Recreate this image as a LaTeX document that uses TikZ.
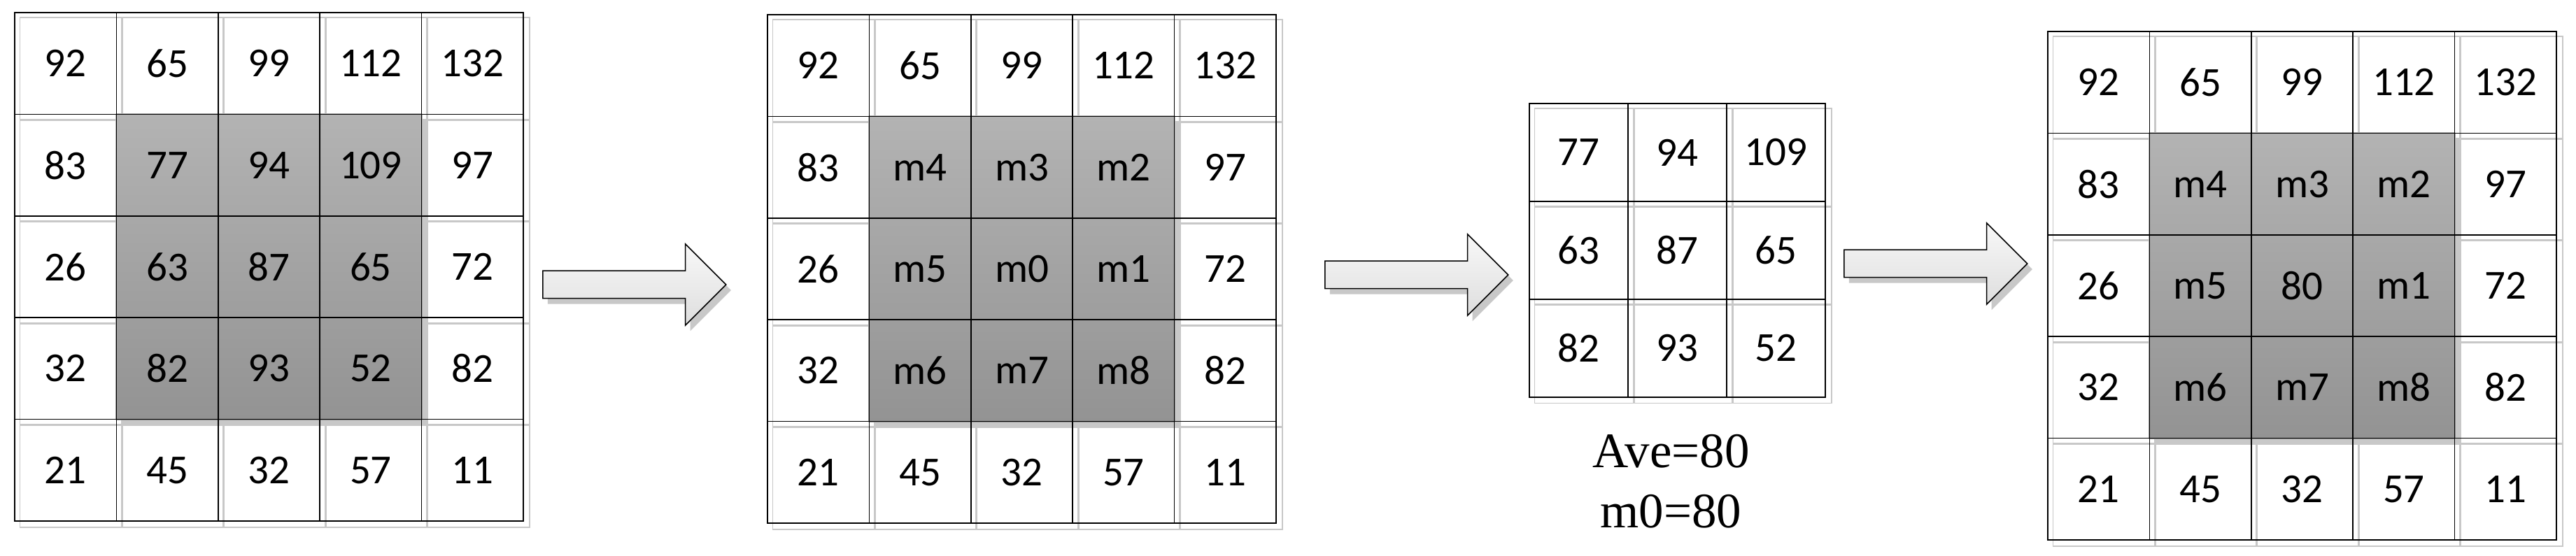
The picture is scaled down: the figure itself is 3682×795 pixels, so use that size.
\documentclass[tikz,border=0pt]{standalone}
\usepackage{fontspec}
\setmainfont{Carlito}
\newfontfamily\timesfont{Liberation Serif}
\usetikzlibrary{positioning, shapes.arrows, shadows, backgrounds}

\definecolor{gridshadow}{HTML}{C8C8C8}
\definecolor{blocktop}{HTML}{B3B3B3}
\definecolor{blockbottom}{HTML}{939393}
\definecolor{arrowtop}{HTML}{F8F8F8}
\definecolor{arrowbottom}{HTML}{DEDEDE}

\begin{document}
\begin{tikzpicture}[
    x=0.5pt, y=-0.5pt,
    font=\fontsize{29.5}{35}\selectfont,
    cell/.style={
      draw,
      line width=0.75pt,
      inner sep=0pt,
      minimum width=72.7pt,
      minimum height=72.7pt
    },
    smallcell/.style={cell, minimum width=70.5pt, minimum height=70pt},
    shadowline/.style={draw=gridshadow, line width=0.75pt},
    block/.style={top color=blocktop, bottom color=blockbottom, draw=none},
    blockshadow/.style={fill=gridshadow},
    bigarrow/.style={
      single arrow,
      draw,
      line width=0.75pt,
      inner xsep=0pt,
      inner ysep=9.5pt,
      minimum height=131pt,
      minimum width=57.5pt,
      single arrow head extend=19.25pt,
      single arrow tip angle=90,
      top color=arrowtop,
      bottom color=arrowbottom,
      drop shadow={shadow xshift=3.5pt, shadow yshift=-4pt, fill=gridshadow, opacity=1}
    },
    avetext/.style={font=\timesfont\fontsize{35.5}{43}\selectfont, align=center, inner sep=0pt}
  ]

  \useasboundingbox (0,0) rectangle (3682,795);
  \begin{scope}[on background layer]
    \fill[white] (0,0) rectangle (3682,795);
  \end{scope}

  % --- input window ---
  \foreach \row [count=\r] in {{92,65,99,112,132},{83,77,94,109,97},{26,63,87,65,72},{32,82,93,52,82},{21,45,32,57,11}}
    \foreach \val [count=\c] in \row
      \node[cell] (A-\r-\c) at ({21+(\c-0.5)*145.4},{18+(\r-0.5)*145.4}) {\val};

  % --- neighbour labels ---
  \foreach \row [count=\r] in {{92,65,99,112,132},{83,m4,m3,m2,97},{26,m5,m0,m1,72},{32,m6,m7,m8,82},{21,45,32,57,11}}
    \foreach \val [count=\c] in \row
      \node[cell] (B-\r-\c) at ({1097+(\c-0.5)*145.4},{21+(\r-0.5)*145.4}) {\val};

  % --- 3x3 window ---
  \foreach \row [count=\r] in {{77,94,109},{63,87,65},{82,93,52}}
    \foreach \val [count=\c] in \row
      \node[smallcell] (C-\r-\c) at ({2186+(\c-0.5)*141},{148+(\r-0.5)*140}) {\val};

  \node[avetext, below=26pt of C-3-2, xshift=-4.5pt] (ave) {Ave=80\\m0=80};

  % --- result ---
  \foreach \row [count=\r] in {{92,65,99,112,132},{83,m4,m3,m2,97},{26,m5,80,m1,72},{32,m6,m7,m8,82},{21,45,32,57,11}}
    \foreach \val [count=\c] in \row
      \node[cell] (D-\r-\c) at ({2927+(\c-0.5)*145.4},{45+(\r-0.5)*145.4}) {\val};

  % --- block arrows ---
  \node[bigarrow, anchor=tail] (arr1) at (775,407) {};
  \node[bigarrow, anchor=tail] (arr2) at (1893,393) {};
  \node[bigarrow, anchor=tail] (arr3) at (2635,377) {};

  % --- shadows and shaded blocks ---
  \begin{scope}[on background layer]
    \foreach \g/\n in {A/5,B/5,C/3,D/5}
      \foreach \r in {1,...,\n}
        \foreach \c in {1,...,\n}
          \draw[shadowline] ([shift={(8,8)}]\g-\r-\c.north west) rectangle ([shift={(8,8)}]\g-\r-\c.south east);
    \foreach \g in {A,B,D} {
      \fill[blockshadow] ([shift={(8,8)}]\g-2-2.north west) rectangle ([shift={(8,8)}]\g-4-4.south east);
      \shade[block] (\g-2-2.north west) rectangle (\g-4-4.south east);
    }
  \end{scope}

\end{tikzpicture}
\end{document}
